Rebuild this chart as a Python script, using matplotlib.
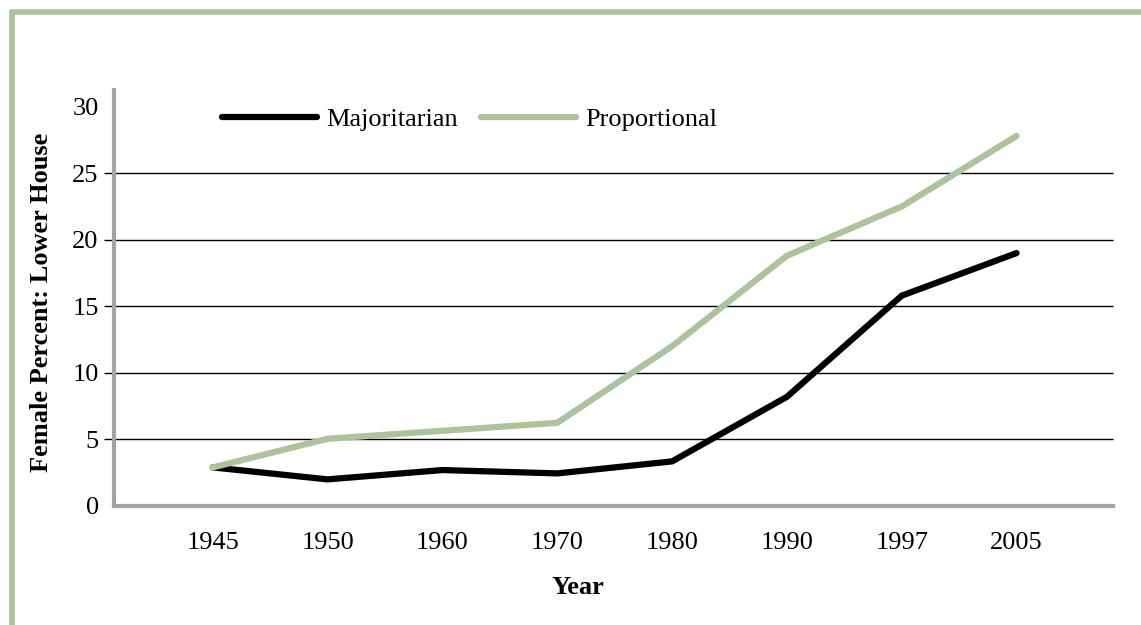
import matplotlib.pyplot as plt
from matplotlib.lines import Line2D

years = ["1945", "1950", "1960", "1970", "1980", "1990", "1997", "2005"]
majoritarian = [2.9, 2.0, 2.7, 2.45, 3.35, 8.2, 15.8, 19.0]
proportional = [2.9, 5.05, 5.65, 6.25, 12.0, 18.8, 22.5, 27.8]
grid_vals = [5, 10, 15, 20, 25]

green = "#abc49b"
plt.rcParams["font.family"] = ["Liberation Serif", "DejaVu Serif"]

W, H = 1141, 625
fig = plt.figure(figsize=(W / 100, H / 100), dpi=100)
ax = fig.add_axes([114 / W, 1 - 506 / H, (1113 - 114) / W, (506 - 90) / H])

x = list(range(len(years)))
ax.plot(x, majoritarian, color="black", lw=4.5, solid_capstyle="round", label="Majoritarian", zorder=3)
ax.plot(x, proportional, color=green, lw=4.5, solid_capstyle="round", label="Proportional", zorder=4)

# horizontal rules, poking a bit left of the axis
ax.hlines(grid_vals, -0.01, 1, transform=ax.get_yaxis_transform(), color="black", lw=1, clip_on=False, zorder=1)

ax.set_xlim(-0.86, 7.84)
ax.set_ylim(0, 31.25)
ax.set_xticks(x)
ax.set_xticklabels(years)
ax.set_yticks([0, 5, 10, 15, 20, 25, 30])
ax.tick_params(axis="both", length=0, labelsize=19)
ax.tick_params(axis="x", pad=19)
ax.tick_params(axis="y", pad=11)

for s in ["top", "right"]:
    ax.spines[s].set_visible(False)
for s in ["left", "bottom"]:
    ax.spines[s].set_color("#a3a3a3")
    ax.spines[s].set_linewidth(3)

ax.legend(loc="upper left", bbox_to_anchor=(0.084, 1.015), ncol=2, frameon=False,
          fontsize=19, handlelength=3.6, handletextpad=0.35, columnspacing=0.9)

fig.text(578 / W, 1 - 588 / H, "Year", ha="center", va="center", fontsize=19, fontweight="bold")
fig.text(42 / W, 1 - 302 / H, "Female Percent: Lower House", ha="center", va="center",
         rotation=90, fontsize=19, fontweight="bold")

# green frame on left and top
fig.add_artist(Line2D([12 / W, 12 / W], [0, 1 - 10 / H], color=green, lw=4,
                      solid_capstyle="butt", transform=fig.transFigure))
fig.add_artist(Line2D([10 / W, 1], [1 - 12 / H, 1 - 12 / H], color=green, lw=4,
                      solid_capstyle="butt", transform=fig.transFigure))

fig.savefig("out.png", dpi=100)
